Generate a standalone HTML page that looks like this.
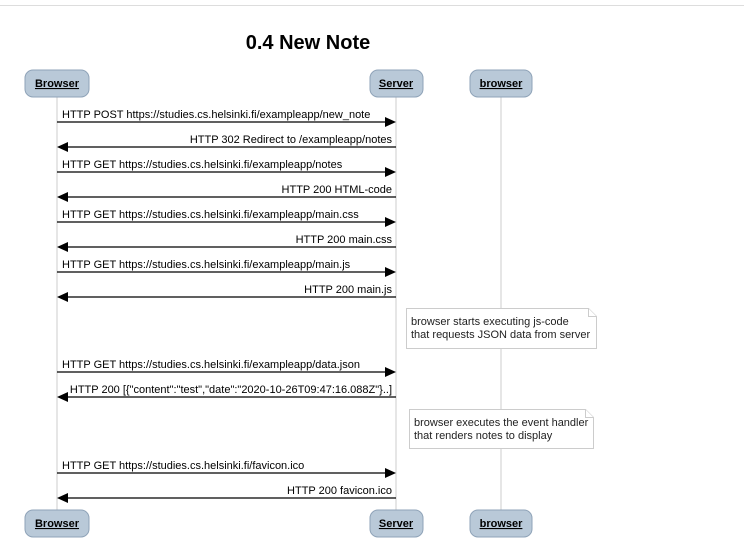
<!DOCTYPE html>
<html><head><style>body{margin:0;background:#fff;width:744px;height:551px;overflow:hidden}</style></head><body>
<svg width="744" height="551" xmlns="http://www.w3.org/2000/svg" font-family="Liberation Sans, sans-serif">
<line x1="0" y1="5.5" x2="744" y2="5.5" stroke="#ddd"/>
<text x="308" y="49" font-size="20" font-weight="bold" text-anchor="middle">0.4 New Note</text>
<g stroke="#ccc"><line x1="57" y1="97" x2="57" y2="510"/><line x1="396" y1="97" x2="396" y2="510"/><line x1="501" y1="97" x2="501" y2="510"/></g>
<g fill="#b9c9d8" stroke="#8fa3b8">
<rect x="25" y="70" width="64" height="27" rx="8"/><rect x="370" y="70" width="53" height="27" rx="8"/><rect x="470" y="70" width="62" height="27" rx="8"/>
<rect x="25" y="510" width="64" height="27" rx="8"/><rect x="370" y="510" width="53" height="27" rx="8"/><rect x="470" y="510" width="62" height="27" rx="8"/>
</g>
<g font-size="11" font-weight="bold" text-anchor="middle" text-decoration="underline">
<text x="57" y="87">Browser</text><text x="396" y="87">Server</text><text x="501" y="87">browser</text>
<text x="57" y="527">Browser</text><text x="396" y="527">Server</text><text x="501" y="527">browser</text>
</g>
<g stroke="#000" stroke-width="1.3">
<line x1="57" y1="122" x2="386" y2="122"/><line x1="67" y1="147" x2="396" y2="147"/>
<line x1="57" y1="172" x2="386" y2="172"/><line x1="67" y1="197" x2="396" y2="197"/>
<line x1="57" y1="222" x2="386" y2="222"/><line x1="67" y1="247" x2="396" y2="247"/>
<line x1="57" y1="272" x2="386" y2="272"/><line x1="67" y1="297" x2="396" y2="297"/>
<line x1="57" y1="372" x2="386" y2="372"/><line x1="67" y1="397" x2="396" y2="397"/>
<line x1="57" y1="473" x2="386" y2="473"/><line x1="67" y1="498" x2="396" y2="498"/>
</g>
<g fill="#000">
<path d="M396 122l-11-5v10z"/><path d="M57 147l11-5v10z"/>
<path d="M396 172l-11-5v10z"/><path d="M57 197l11-5v10z"/>
<path d="M396 222l-11-5v10z"/><path d="M57 247l11-5v10z"/>
<path d="M396 272l-11-5v10z"/><path d="M57 297l11-5v10z"/>
<path d="M396 372l-11-5v10z"/><path d="M57 397l11-5v10z"/>
<path d="M396 473l-11-5v10z"/><path d="M57 498l11-5v10z"/>
</g>
<g font-size="11" fill="#000">
<text x="62" y="118">HTTP POST https://studies.cs.helsinki.fi/exampleapp/new_note</text>
<text x="392" y="143" text-anchor="end">HTTP 302 Redirect to /exampleapp/notes</text>
<text x="62" y="168">HTTP GET https://studies.cs.helsinki.fi/exampleapp/notes</text>
<text x="392" y="193" text-anchor="end">HTTP 200 HTML-code</text>
<text x="62" y="218">HTTP GET https://studies.cs.helsinki.fi/exampleapp/main.css</text>
<text x="392" y="243" text-anchor="end">HTTP 200 main.css</text>
<text x="62" y="268">HTTP GET https://studies.cs.helsinki.fi/exampleapp/main.js</text>
<text x="392" y="293" text-anchor="end">HTTP 200 main.js</text>
<text x="62" y="368">HTTP GET https://studies.cs.helsinki.fi/exampleapp/data.json</text>
<text x="392" y="393" text-anchor="end">HTTP 200 [{"content":"test","date":"2020-10-26T09:47:16.088Z"}..]</text>
<text x="62" y="469">HTTP GET https://studies.cs.helsinki.fi/favicon.ico</text>
<text x="392" y="494" text-anchor="end">HTTP 200 favicon.ico</text>
</g>
<g fill="#fff" stroke="#ccc">
<path d="M406.5 308.5h182l8 8v32h-190z"/><path d="M588.5 308.5v8h8"/>
<path d="M409.5 409.5h176l8 8v31h-184z"/><path d="M585.5 409.5v8h8"/>
</g>
<g font-size="11" fill="#222">
<text x="411" y="325">browser starts executing js-code</text>
<text x="411" y="338">that requests JSON data from server</text>
<text x="414" y="426">browser executes the event handler</text>
<text x="414" y="439">that renders notes to display</text>
</g>
</svg>
</body></html>
